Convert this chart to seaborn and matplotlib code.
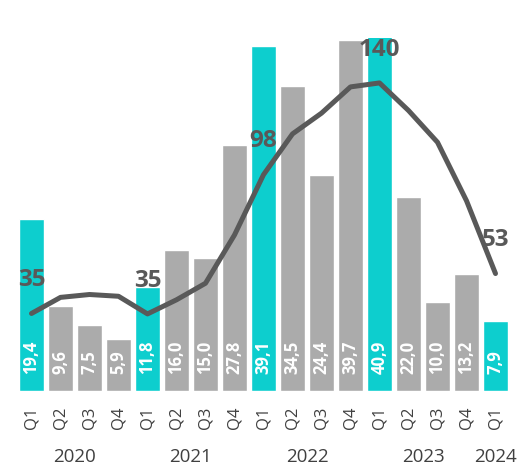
import numpy as np
import pandas as pd
import matplotlib
matplotlib.use("Agg")
import matplotlib.pyplot as plt
import seaborn as sns

# --- Données ---
years = [2020] * 4 + [2021] * 4 + [2022] * 4 + [2023] * 4 + [2024]
quarters = ["Q1", "Q2", "Q3", "Q4"] * 4 + ["Q1"]
bar_values = [19.4, 9.6, 7.5, 5.9, 11.8, 16.0, 15.0, 27.8, 39.1,
              34.5, 24.4, 39.7, 40.9, 22.0, 10.0, 13.2, 7.9]
line_values = [35.0, 42.3, 43.6, 42.8, 34.8, 41.2, 48.7, 70.6, 97.9,
               116.4, 125.8, 137.7, 139.5, 127.0, 112.6, 86.1, 53.1]
year_labels = ["2020", "2021", "2022", "2023", "2024"]

CYAN = "#0DCECE"
GREY = "#ABABAB"
LINE = "#595959"
TXT = "#404040"

df = pd.DataFrame({
    "key": [f"{y} {q}" for y, q in zip(years, quarters)],
    "year": years,
    "quarter": quarters,
    "value": bar_values,
    "rolling": line_values,
})
df["kind"] = np.where(df["quarter"] == "Q1", "q1", "other")
df["pos"] = np.arange(len(df))

sns.set_style("white")
plt.rcParams["font.family"] = ["Open Sans", "DejaVu Sans"]

fig = plt.figure(figsize=(5.21, 4.68), dpi=100)
ax = fig.add_axes([17 / 521, 77.3 / 468, 493 / 521, 353 / 468])

sns.barplot(data=df, x="key", y="value", hue="kind",
            palette={"q1": CYAN, "other": GREY}, dodge=False,
            width=0.83, legend=False, saturation=1, ax=ax)
ax.set_ylim(0, 40)
ax.set_xlim(-0.5, len(df) - 0.5)

# étiquettes dans les barres
for i, v in enumerate(df["value"]):
    ax.annotate(f"{v:.1f}".replace(".", ","), xy=(i, 0), xytext=(0, 12),
                textcoords="offset points", rotation=90, ha="center",
                va="bottom", color="white", fontsize=12, fontweight="bold")

# --- Courbe cumulée 4 trimestres ---
ax2 = ax.twinx()
sns.lineplot(data=df, x="pos", y="rolling", color=LINE, linewidth=3.6,
             solid_capstyle="round", solid_joinstyle="round", ax=ax2,
             zorder=5)
ax2.set_ylim(0, 160)
ax2.set_xlim(ax.get_xlim())

for _, r in df[df["quarter"] == "Q1"].iterrows():
    ax2.annotate(f"{r['rolling']:.0f}", xy=(r["pos"], r["rolling"]),
                 xytext=(0, 24), textcoords="offset points", ha="center",
                 va="center", fontsize=17.5, fontweight="bold", color=LINE,
                 zorder=4)

# axes
ax.set_xticks(df["pos"])
ax.set_xticklabels(df["quarter"], rotation=90, fontsize=12, color=TXT)
ax.tick_params(axis="x", length=0, pad=11.5)
ax.set_yticks([])
ax2.set_yticks([])
ax.set_xlabel("")
ax.set_ylabel("")
ax2.set_xlabel("")
ax2.set_ylabel("")
for a in (ax, ax2):
    for s in a.spines.values():
        s.set_visible(False)

for y in year_labels:
    centre = df.loc[df["year"] == int(y), "pos"].mean()
    ax.annotate(y, xy=(centre, 0), xycoords=("data", "axes fraction"),
                xytext=(0, -48), textcoords="offset points", ha="center",
                va="center", fontsize=13.5, color=TXT)

fig.savefig("out.png", dpi=100)
